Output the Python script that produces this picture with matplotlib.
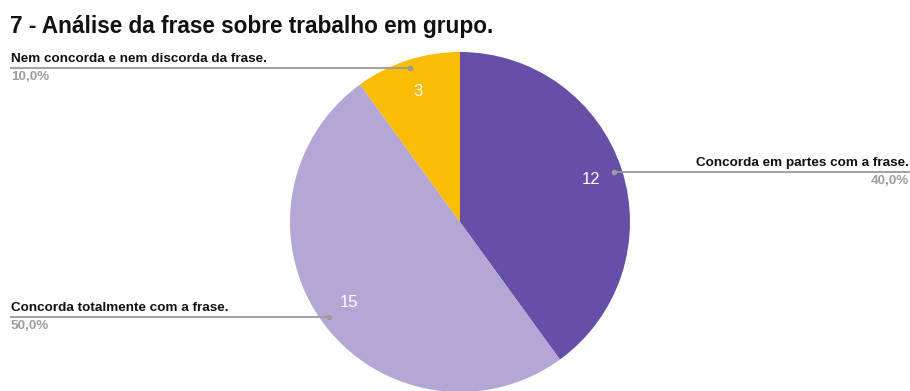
import numpy as np
import matplotlib

matplotlib.use("Agg")
import matplotlib.pyplot as plt

plt.rcParams["font.family"] = ["Liberation Sans", "DejaVu Sans"]

TITLE = "7 - Análise da frase sobre trabalho em grupo."
labels = [
    "Concorda em partes com a frase.",
    "Concorda totalmente com a frase.",
    "Nem concorda e nem discorda da frase.",
]
counts = [12, 15, 3]
colors = ["#674ea7", "#b4a7d6", "#fbbc04"]
# lado da legenda de cada fatia
sides = ["right", "left", "left"]

W, H = 910, 391
fig = plt.figure(figsize=(W / 100, H / 100), dpi=100)

# pizza: centro (460, 222), raio 170 px
R = 170
cx, cy = 460, 222
ax = fig.add_axes([(cx - R) / W, (H - cy - R) / H, 2 * R / W, 2 * R / H])
wedges, _ = ax.pie(
    counts,
    colors=colors,
    startangle=90,
    counterclock=False,
    wedgeprops=dict(linewidth=0),
)
ax.set_xlim(-1, 1)
ax.set_ylim(-1, 1)
ax.set_aspect("equal")
ax.axis("off")

# camada de texto/linhas em pixels (origem no topo), por cima da pizza
over = fig.add_axes([0, 0, 1, 1])
over.set_xlim(0, W)
over.set_ylim(H, 0)
over.axis("off")
over.patch.set_alpha(0)
over.set_zorder(5)

over.text(10, 27, TITLE, fontsize=16.3, fontweight="bold", color="#111111",
          va="center", ha="left")

total = sum(counts)
for w, lab, n, side in zip(wedges, labels, counts, sides):
    mid = np.deg2rad((w.theta1 + w.theta2) / 2)
    # número dentro da fatia
    ax.text(0.81 * np.cos(mid), 0.81 * np.sin(mid), str(n), color="white",
            fontsize=12, ha="center", va="center")
    # ponto-guia, convertido para pixels da figura
    px, py = ax.transData.transform((0.95 * np.cos(mid), 0.95 * np.sin(mid)))
    py = H - py
    pct = f"{100 * n / total:.1f}%".replace(".", ",")
    if side == "left":
        x0, x1, xt, ha = 10, px, 11, "left"
    else:
        x0, x1, xt, ha = px, W, W - 1, "right"
    over.plot([x0, x1], [py, py], color="#9a9a9a", lw=1.3, solid_capstyle="butt")
    over.plot([px], [py], "o", color="#9a9a9a", ms=4, mec="none")
    over.text(xt, py - 3, lab, fontsize=9.7, fontweight="bold", color="#111111",
              ha=ha, va="bottom")
    over.text(xt, py + 3, pct, fontsize=9.7, fontweight="bold", color="#9e9e9e",
              ha=ha, va="top")

fig.savefig("out.png", dpi=100)
